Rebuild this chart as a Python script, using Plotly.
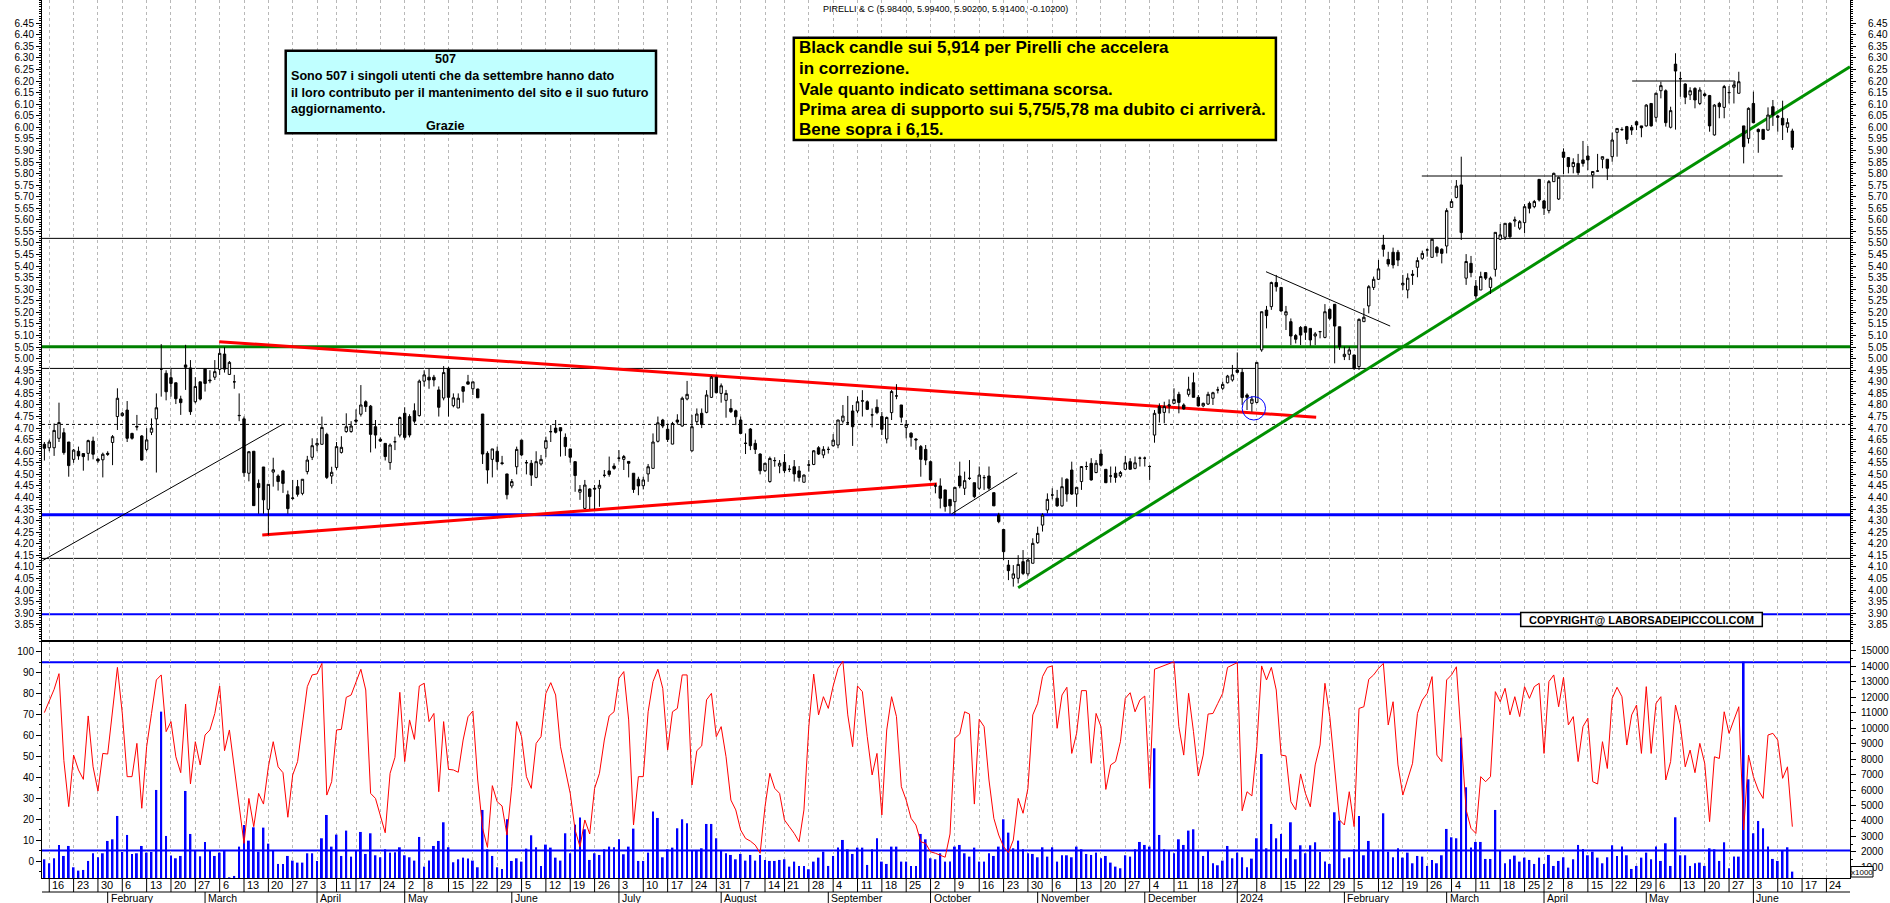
import plotly.graph_objects as go
import pandas as pd

# ---------------- calendar ----------------
HOLIDAYS = ["2023-04-07", "2023-04-10", "2023-05-01", "2023-08-15", "2023-12-25",
            "2023-12-26", "2024-01-01", "2024-03-29", "2024-04-01", "2024-05-01"]
FIRST_DAY = "2023-01-13"
AXIS_LAST_DAY = "2024-06-28"
MONTHS = ["", "January", "February", "March", "April", "May", "June", "July",
          "August", "September", "October", "November", "December"]

# ---------------- OHLC (daily) ----------------
open_ = [
    4.63, 4.615, 4.615, 4.656, 4.68, 4.64, 4.565, 4.60, 4.59, 4.591,
    4.644, 4.566, 4.563, 4.591, 4.638, 4.75, 4.754, 4.778, 4.677, 4.707,
    4.666, 4.608, 4.682, 4.74, 4.955, 4.937, 4.918, 4.896, 4.826, 4.973,
    4.96, 4.814, 4.90, 4.955, 4.908, 4.92, 4.954, 5.02, 4.932, 4.90,
    4.755, 4.74, 4.505, 4.60, 4.461, 4.532, 4.349, 4.51, 4.493, 4.515,
    4.412, 4.396, 4.447, 4.418, 4.512, 4.574, 4.627, 4.63, 4.673, 4.493,
    4.53, 4.595, 4.685, 4.685, 4.735, 4.76, 4.814, 4.795, 4.706, 4.652,
    4.634, 4.551, 4.641, 4.67, 4.764, 4.75, 4.775, 4.754, 4.903, 4.92,
    4.92, 4.865, 4.83, 4.958, 4.797, 4.787, 4.879, 4.90, 4.87, 4.869,
    4.761, 4.591, 4.565, 4.60, 4.55, 4.502, 4.45, 4.533, 4.648, 4.551,
    4.548, 4.487, 4.545, 4.613, 4.684, 4.70, 4.702, 4.66, 4.61, 4.555,
    4.423, 4.353, 4.437, 4.44, 4.44, 4.496, 4.515, 4.536, 4.57, 4.565,
    4.556, 4.505, 4.479, 4.451, 4.502, 4.526, 4.643, 4.735, 4.695, 4.631,
    4.735, 4.709, 4.826, 4.602, 4.728, 4.764, 4.768, 4.833, 4.92, 4.85,
    4.82, 4.785, 4.775, 4.735, 4.635, 4.696, 4.634, 4.588, 4.516, 4.469,
    4.559, 4.536, 4.552, 4.522, 4.533, 4.515, 4.466, 4.54, 4.543, 4.615,
    4.584, 4.608, 4.624, 4.627, 4.73, 4.723, 4.774, 4.774, 4.818, 4.814,
    4.757, 4.79, 4.75, 4.653, 4.767, 4.839, 4.80, 4.703, 4.678, 4.653,
    4.62, 4.608, 4.555, 4.45, 4.45, 4.433, 4.392, 4.382, 4.493, 4.44,
    4.483, 4.464, 4.44, 4.486, 4.493, 4.421, 4.324, 4.262, 4.108, 4.051,
    4.051, 4.123, 4.07, 4.116, 4.205, 4.281, 4.346, 4.411, 4.397, 4.364,
    4.479, 4.519, 4.415, 4.469, 4.534, 4.548, 4.508, 4.588, 4.522, 4.493,
    4.505, 4.493, 4.522, 4.555, 4.526, 4.57, 4.57, 4.534, 4.670, 4.793,
    4.768, 4.796, 4.807, 4.846, 4.80, 4.846, 4.896, 4.833, 4.796, 4.804,
    4.829, 4.865, 4.872, 4.896, 4.908, 4.951, 4.941, 4.843, 4.807, 4.811,
    5.038, 5.210, 5.225, 5.329, 5.308, 5.189, 5.160, 5.10, 5.135, 5.138,
    5.131, 5.098, 5.117, 5.092, 5.213, 5.235, 5.138, 5.009, 5.019, 5.016,
    4.966, 5.16, 5.228, 5.308, 5.343, 5.491, 5.429, 5.46, 5.46, 5.319,
    5.297, 5.365, 5.395, 5.434, 5.47, 5.438, 5.481, 5.473, 5.487, 5.654,
    5.697, 5.751, 5.348, 5.412, 5.314, 5.297, 5.372, 5.308, 5.386, 5.516,
    5.525, 5.585, 5.595, 5.564, 5.588, 5.671, 5.657, 5.775, 5.682, 5.64,
    5.765, 5.69, 5.893, 5.869, 5.83, 5.844, 5.859, 5.876, 5.794, 5.811,
    5.862, 5.862, 5.873, 5.978, 5.99, 6.003, 6.0, 6.024, 6.006, 6.006,
    6.103, 6.043, 6.158, 6.158, 6.0, 6.273, 6.21, 6.187, 6.14, 6.168,
    6.103, 6.144, 6.137, 5.967, 6.103, 6.086, 6.15, 6.173, 6.147, 6.006,
    5.952, 6.103, 5.991, 5.991, 5.988, 6.089, 6.049, 6.039, 6.0, 5.984,
]
high = [
    4.64, 4.65, 4.72, 4.81, 4.70, 4.64, 4.61, 4.62, 4.59, 4.65,
    4.663, 4.57, 4.594, 4.60, 4.67, 4.872, 4.77, 4.817, 4.68, 4.757,
    4.67, 4.70, 4.742, 4.85, 5.063, 4.95, 4.96, 4.896, 4.84, 5.06,
    4.994, 4.92, 4.90, 4.958, 4.95, 4.994, 5.045, 5.05, 4.99, 4.93,
    4.85, 4.75, 4.60, 4.60, 4.478, 4.532, 4.457, 4.572, 4.50, 4.52,
    4.43, 4.476, 4.476, 4.48, 4.58, 4.656, 4.656, 4.75, 4.68, 4.533,
    4.64, 4.665, 4.764, 4.73, 4.781, 4.886, 4.82, 4.80, 4.735, 4.66,
    4.634, 4.634, 4.663, 4.75, 4.79, 4.76, 4.807, 4.91, 4.95, 4.958,
    4.93, 4.88, 4.968, 4.965, 4.85, 4.85, 4.88, 4.93, 4.90, 4.87,
    4.761, 4.60, 4.61, 4.62, 4.58, 4.502, 4.48, 4.62, 4.65, 4.562,
    4.562, 4.60, 4.584, 4.663, 4.713, 4.735, 4.702, 4.677, 4.61, 4.555,
    4.454, 4.476, 4.44, 4.454, 4.476, 4.519, 4.577, 4.548, 4.605, 4.584,
    4.556, 4.505, 4.49, 4.49, 4.545, 4.677, 4.75, 4.74, 4.72, 4.727,
    4.76, 4.836, 4.904, 4.757, 4.785, 4.785, 4.864, 4.925, 4.92, 4.893,
    4.865, 4.826, 4.78, 4.75, 4.677, 4.70, 4.65, 4.591, 4.55, 4.577,
    4.574, 4.562, 4.588, 4.54, 4.562, 4.536, 4.50, 4.562, 4.605, 4.622,
    4.622, 4.62, 4.674, 4.735, 4.80, 4.839, 4.80, 4.836, 4.864, 4.82,
    4.785, 4.824, 4.77, 4.75, 4.865, 4.89, 4.80, 4.735, 4.682, 4.656,
    4.627, 4.627, 4.56, 4.462, 4.483, 4.433, 4.392, 4.444, 4.555, 4.512,
    4.562, 4.464, 4.534, 4.497, 4.534, 4.421, 4.334, 4.262, 4.13, 4.108,
    4.151, 4.173, 4.14, 4.224, 4.274, 4.332, 4.418, 4.44, 4.433, 4.487,
    4.483, 4.555, 4.444, 4.534, 4.555, 4.57, 4.562, 4.608, 4.522, 4.534,
    4.534, 4.515, 4.58, 4.57, 4.577, 4.577, 4.577, 4.54, 4.778, 4.807,
    4.814, 4.824, 4.872, 4.857, 4.807, 4.922, 4.94, 4.843, 4.81, 4.857,
    4.857, 4.879, 4.901, 4.93, 4.973, 5.027, 4.958, 4.85, 4.839, 4.984,
    5.203, 5.228, 5.333, 5.362, 5.308, 5.228, 5.174, 5.107, 5.141, 5.141,
    5.131, 5.115, 5.12, 5.236, 5.218, 5.235, 5.138, 5.052, 5.052, 5.016,
    5.174, 5.218, 5.318, 5.355, 5.427, 5.535, 5.462, 5.48, 5.47, 5.362,
    5.369, 5.383, 5.438, 5.467, 5.477, 5.52, 5.487, 5.477, 5.65, 5.689,
    5.772, 5.873, 5.452, 5.444, 5.34, 5.376, 5.372, 5.355, 5.546, 5.582,
    5.585, 5.59, 5.614, 5.599, 5.668, 5.679, 5.686, 5.775, 5.686, 5.772,
    5.804, 5.787, 5.909, 5.87, 5.866, 5.885, 5.941, 5.919, 5.809, 5.885,
    5.873, 5.862, 5.977, 5.995, 6.0, 6.006, 6.01, 6.028, 6.006, 6.10,
    6.103, 6.15, 6.197, 6.164, 6.089, 6.32, 6.24, 6.19, 6.173, 6.173,
    6.173, 6.15, 6.14, 6.10, 6.11, 6.183, 6.178, 6.197, 6.24, 6.006,
    6.086, 6.154, 5.995, 5.991, 6.086, 6.118, 6.053, 6.115, 6.039, 5.994,
]
low = [
    4.56, 4.60, 4.58, 4.64, 4.585, 4.49, 4.55, 4.563, 4.516, 4.56,
    4.565, 4.55, 4.487, 4.58, 4.54, 4.692, 4.75, 4.64, 4.65, 4.69,
    4.56, 4.60, 4.67, 4.508, 4.836, 4.82, 4.836, 4.804, 4.757, 4.865,
    4.757, 4.807, 4.82, 4.858, 4.894, 4.908, 4.93, 4.94, 4.93, 4.87,
    4.73, 4.49, 4.47, 4.365, 4.33, 4.33, 4.238, 4.447, 4.43, 4.42,
    4.33, 4.39, 4.404, 4.41, 4.50, 4.562, 4.60, 4.63, 4.48, 4.459,
    4.52, 4.59, 4.68, 4.68, 4.72, 4.75, 4.77, 4.595, 4.612, 4.64,
    4.56, 4.52, 4.605, 4.66, 4.65, 4.66, 4.72, 4.75, 4.88, 4.87,
    4.88, 4.75, 4.82, 4.75, 4.79, 4.787, 4.81, 4.89, 4.843, 4.83,
    4.545, 4.46, 4.487, 4.52, 4.54, 4.392, 4.44, 4.50, 4.58, 4.50,
    4.45, 4.483, 4.538, 4.574, 4.64, 4.677, 4.577, 4.58, 4.551, 4.425,
    4.39, 4.35, 4.35, 4.35, 4.36, 4.487, 4.49, 4.52, 4.555, 4.519,
    4.487, 4.42, 4.41, 4.435, 4.468, 4.526, 4.638, 4.70, 4.64, 4.63,
    4.715, 4.706, 4.82, 4.598, 4.718, 4.70, 4.764, 4.83, 4.85, 4.81,
    4.745, 4.765, 4.713, 4.675, 4.588, 4.605, 4.588, 4.50, 4.51, 4.464,
    4.533, 4.505, 4.505, 4.51, 4.469, 4.469, 4.466, 4.512, 4.54, 4.584,
    4.57, 4.59, 4.62, 4.613, 4.72, 4.713, 4.623, 4.764, 4.75, 4.778,
    4.703, 4.76, 4.67, 4.634, 4.735, 4.825, 4.724, 4.656, 4.62, 4.606,
    4.49, 4.54, 4.47, 4.418, 4.353, 4.339, 4.33, 4.325, 4.44, 4.411,
    4.476, 4.397, 4.433, 4.433, 4.433, 4.364, 4.289, 4.13, 4.043, 4.015,
    4.029, 4.065, 4.06, 4.116, 4.20, 4.253, 4.332, 4.392, 4.36, 4.36,
    4.382, 4.411, 4.36, 4.433, 4.519, 4.473, 4.505, 4.534, 4.464, 4.464,
    4.464, 4.486, 4.519, 4.522, 4.522, 4.534, 4.534, 4.476, 4.637, 4.724,
    4.721, 4.764, 4.807, 4.764, 4.78, 4.836, 4.833, 4.793, 4.79, 4.80,
    4.80, 4.85, 4.865, 4.893, 4.901, 4.937, 4.80, 4.778, 4.771, 4.807,
    5.030, 5.131, 5.211, 5.29, 5.203, 5.124, 5.059, 5.066, 5.059, 5.081,
    5.056, 5.059, 5.088, 5.088, 5.167, 4.98, 5.038, 4.994, 4.994, 4.951,
    4.951, 5.16, 5.196, 5.297, 5.34, 5.441, 5.398, 5.39, 5.40, 5.297,
    5.261, 5.319, 5.352, 5.427, 5.441, 5.438, 5.441, 5.412, 5.455, 5.654,
    5.693, 5.513, 5.319, 5.352, 5.257, 5.297, 5.34, 5.28, 5.355, 5.513,
    5.513, 5.52, 5.57, 5.556, 5.542, 5.628, 5.65, 5.679, 5.621, 5.628,
    5.765, 5.686, 5.798, 5.801, 5.801, 5.794, 5.83, 5.815, 5.736, 5.808,
    5.823, 5.772, 5.851, 5.873, 5.985, 5.928, 5.967, 5.988, 5.957, 6.003,
    6.003, 6.024, 6.125, 6.003, 5.995, 5.99, 6.132, 6.10, 6.118, 6.082,
    6.096, 6.132, 5.981, 5.964, 6.039, 6.039, 6.103, 6.103, 6.147, 5.844,
    5.93, 6.017, 5.89, 5.945, 5.985, 6.006, 5.981, 5.945, 5.977, 5.902,
]
close = [
    4.613, 4.64, 4.69, 4.724, 4.594, 4.538, 4.605, 4.58, 4.577, 4.646,
    4.587, 4.558, 4.587, 4.587, 4.663, 4.829, 4.764, 4.656, 4.656, 4.705,
    4.562, 4.649, 4.70, 4.788, 4.955, 4.857, 4.893, 4.827, 4.81, 4.963,
    4.771, 4.88, 4.826, 4.893, 4.905, 4.944, 5.023, 4.955, 4.984, 4.90,
    4.754, 4.507, 4.598, 4.365, 4.443, 4.39, 4.457, 4.52, 4.469, 4.461,
    4.352, 4.398, 4.414, 4.479, 4.562, 4.624, 4.634, 4.703, 4.487, 4.509,
    4.62, 4.617, 4.706, 4.709, 4.73, 4.80, 4.793, 4.673, 4.67, 4.644,
    4.577, 4.627, 4.641, 4.746, 4.66, 4.67, 4.73, 4.903, 4.93, 4.908,
    4.908, 4.79, 4.94, 4.833, 4.831, 4.829, 4.859, 4.89, 4.90, 4.831,
    4.588, 4.519, 4.61, 4.555, 4.547, 4.412, 4.469, 4.608, 4.584, 4.55,
    4.497, 4.555, 4.565, 4.646, 4.685, 4.682, 4.688, 4.62, 4.574, 4.495,
    4.435, 4.454, 4.404, 4.437, 4.453, 4.496, 4.50, 4.526, 4.57, 4.577,
    4.548, 4.435, 4.45, 4.476, 4.533, 4.64, 4.723, 4.709, 4.651, 4.72,
    4.726, 4.829, 4.846, 4.706, 4.761, 4.716, 4.843, 4.92, 4.853, 4.883,
    4.85, 4.771, 4.749, 4.677, 4.634, 4.624, 4.608, 4.516, 4.548, 4.569,
    4.56, 4.548, 4.516, 4.522, 4.502, 4.487, 4.497, 4.541, 4.602, 4.588,
    4.608, 4.608, 4.648, 4.735, 4.752, 4.723, 4.706, 4.814, 4.817, 4.781,
    4.757, 4.767, 4.695, 4.746, 4.858, 4.839, 4.747, 4.716, 4.66, 4.649,
    4.565, 4.562, 4.476, 4.45, 4.397, 4.361, 4.364, 4.444, 4.45, 4.473,
    4.483, 4.404, 4.497, 4.486, 4.44, 4.364, 4.296, 4.166, 4.084, 4.07,
    4.111, 4.072, 4.13, 4.202, 4.245, 4.324, 4.392, 4.411, 4.364, 4.447,
    4.415, 4.415, 4.444, 4.534, 4.534, 4.476, 4.548, 4.54, 4.464, 4.493,
    4.487, 4.508, 4.55, 4.522, 4.55, 4.57, 4.57, 4.534, 4.764, 4.764,
    4.793, 4.80, 4.824, 4.811, 4.783, 4.868, 4.833, 4.796, 4.807, 4.846,
    4.853, 4.865, 4.889, 4.925, 4.93, 4.941, 4.832, 4.833, 4.825, 4.984,
    5.203, 5.186, 5.329, 5.311, 5.206, 5.203, 5.098, 5.084, 5.102, 5.114,
    5.081, 5.107, 5.117, 5.203, 5.174, 5.141, 5.052, 5.019, 5.038, 4.958,
    5.170, 5.179, 5.311, 5.343, 5.388, 5.473, 5.409, 5.405, 5.426, 5.326,
    5.348, 5.361, 5.424, 5.455, 5.47, 5.516, 5.458, 5.455, 5.640, 5.679,
    5.746, 5.545, 5.42, 5.372, 5.271, 5.355, 5.348, 5.348, 5.546, 5.535,
    5.585, 5.527, 5.60, 5.592, 5.657, 5.65, 5.679, 5.686, 5.65, 5.765,
    5.801, 5.784, 5.87, 5.83, 5.848, 5.804, 5.844, 5.859, 5.809, 5.811,
    5.873, 5.823, 5.945, 5.995, 5.99, 5.948, 5.988, 6.01, 5.998, 6.096,
    6.006, 6.147, 6.18, 6.02, 6.072, 6.243, 6.21, 6.13, 6.158, 6.118,
    6.161, 6.137, 6.006, 6.096, 6.089, 6.176, 6.15, 6.183, 6.197, 5.916,
    6.082, 6.02, 5.981, 5.948, 6.053, 6.053, 6.043, 6.01, 6.02, 5.914,
]
# volume (axis units, x1000)
volume = [
    1518, 1260, 1583, 2446, 1734, 2381, 1001, 785, 828, 1411,
    1907, 1648, 1907, 2705, 2812, 4322, 1993, 3093, 1864, 1907,
    2381, 1950, 1993, 6005, 11074, 3028, 1756, 1583, 1734, 5941,
    3158, 2079, 1713, 2640, 2079, 1734, 1950, 2079, 353, 440,
    2338, 3740, 2726, 3589, 2015, 3568, 2532, 2079, 1217, 1217,
    1734, 1432, 1303, 1303, 1907, 1907, 1411, 2877, 4387, 2338,
    3115, 1734, 3374, 1691, 2079, 3287, 1864, 3201, 1777, 1648,
    2165, 1950, 1971, 2295, 1777, 1648, 1432, 2963, 1044, 1432,
    2381, 2705, 3913, 2295, 1325, 1518, 1626, 1561, 1432, 1001,
    4711, 2165, 1734, 1001, 893, 4107, 1411, 1583, 1368, 2209,
    3072, 2295, 1087, 2468, 2273, 1626, 1432, 3201, 1907, 3762,
    4215, 3460, 1475, 1907, 1799, 2165, 2338, 2295, 2812, 1842,
    2338, 3503, 1411, 1411, 1950, 4603, 4193, 1648, 2165, 2273,
    3525, 4107, 3848, 2122, 2122, 2230, 3805, 3805, 2877, 2122,
    1907, 1799, 1518, 1864, 1432, 1799, 1432, 1799, 1475, 1411,
    1411, 1475, 1518, 1044, 1368, 1087, 1087, 871, 1368, 1626,
    2015, 1087, 1734, 2273, 2769, 2165, 1864, 2273, 2273, 1152,
    2165, 2877, 1368, 1217, 2338, 2338, 1368, 1368, 1087, 1087,
    3158, 2812, 1583, 1518, 1907, 1368, 1368, 2338, 2446, 1907,
    1691, 2273, 1368, 1368, 1907, 1734, 2338, 4107, 3244, 2230,
    2726, 2165, 1907, 1864, 1648, 2295, 1691, 2295, 1368, 1777,
    1777, 1648, 2338, 2165, 1864, 1799, 1950, 1583, 1734, 1303,
    1044, 936, 1777, 1691, 2165, 2640, 2446, 2338, 8701, 3093,
    2165, 2079, 1907, 2812, 2446, 3374, 3460, 2079, 1734, 2079,
    1260, 1130, 1432, 2381, 1583, 1950, 1648, 1001, 1561, 2877,
    8334, 2230, 3805, 2877, 3158, 1583, 3913, 1518, 2425, 1907,
    2425, 2618, 1993, 1368, 1217, 4560, 4020, 1583, 1648, 2165,
    4322, 1777, 2705, 2122, 2122, 4495, 2015, 1648, 2230, 1626,
    1950, 1260, 1734, 1691, 1087, 1475, 1260, 1777, 3482, 2942,
    2877, 9391, 6178, 2273, 2640, 2640, 1540, 1540, 4711, 2058,
    1260, 1518, 1756, 1368, 1626, 1475, 1217, 1626, 1217, 1799,
    1087, 1411, 1648, 979, 1518, 2446, 2187, 1777, 2015, 1626,
    1260, 1648, 2425, 1734, 2338, 1777, 893, 1087, 1626, 1950,
    1518, 2338, 1411, 2554, 1087, 4236, 1777, 1777, 1087, 1260,
    1303, 1087, 2230, 2165, 1411, 2618, 936, 1691, 1691, 14310,
    6695, 3201, 3999, 3525, 2338, 1540, 1411, 2079, 2295, 720,
]
# oscillator (0-100)
oscillator = [
    70.9, 76.1, 82, 89.5, 48, 26, 50.6, 43.5, 39, 69.3,
    45, 33.4, 51.4, 51.1, 70.5, 92.5, 70.5, 40.3, 40.3, 56.2,
    25.2, 54.6, 70.5, 86.5, 88.9, 61.8, 66.6, 49.8, 42.2, 75,
    36.8, 57, 45.9, 60.2, 62.6, 70.5, 83.6, 52.7, 62.6, 45,
    25.9, 8.4, 29.9, 16.4, 32.3, 27.2, 45, 57, 45, 42.2,
    20.9, 41.1, 47.5, 65.8, 83.3, 88.9, 89.4, 94.4, 31.5, 37.9,
    62.6, 62.9, 78.2, 79.3, 85.7, 91.6, 81.7, 32.3, 29.9, 22,
    13.5, 41.9, 49.5, 80.6, 47.5, 67.4, 58.1, 83.6, 84.9, 66.6,
    70.5, 33.1, 66.6, 43.8, 43.5, 42.4, 57.8, 68.9, 71.7, 38.7,
    15.6, 6.5, 36, 28.3, 26.3, 12.4, 35.5, 66.6, 59.4, 40.3,
    34.7, 56.2, 59.4, 80.1, 85.2, 79.3, 54.6, 43.5, 32.3, 14.8,
    6.8, 19.6, 12.9, 34.7, 41.9, 57.8, 69.3, 71.3, 87.3, 90.5,
    67.4, 17.2, 40.3, 40.3, 71.3, 85.7, 91.6, 82.5, 53, 71.3,
    72.9, 88.9, 88.9, 36.3, 52.7, 55, 77, 80.1, 59.4, 64.2,
    49.8, 29.1, 24.4, 14.8, 10.8, 9.5, 7.6, 3.7, 25.9, 41.9,
    34.7, 32.3, 19.6, 16.4, 13.2, 9.2, 24.4, 64.2, 89.3, 69.8,
    78.5, 72.9, 83.6, 92, 95.5, 69.8, 54.6, 83.6, 80.9, 59.4,
    41.1, 51.4, 22, 62.6, 78.5, 69, 35.5, 29.1, 20.4, 17.2,
    9.2, 8.4, 4.4, 3.7, 2.9, 1.8, 12.9, 58.6, 60.7, 71.3,
    70.2, 27.2, 67.7, 64.2, 38.7, 20.4, 12.4, 6.8, 4, 10,
    29.9, 22.8, 34.7, 69.8, 75.3, 88.1, 92.5, 93.2, 63.4, 79.3,
    83, 51.4, 61, 81.4, 81.4, 46.7, 70.5, 64.2, 34.2, 45.9,
    47.5, 57, 77.7, 80.4, 71.3, 76.9, 78.8, 34.7, 91.6, 92.5,
    93.2, 94.1, 95.2, 64.2, 50.6, 80.1, 61.8, 40.6, 50.6, 70.2,
    70.5, 75.3, 80.1, 92.5, 93.6, 94.8, 24, 33.1, 31.1, 54.6,
    93.2, 86.5, 92.5, 81.7, 50.6, 50.2, 28.3, 24.4, 41.6, 32.3,
    25.9, 45.9, 55.4, 84.9, 69, 45, 19.6, 17.2, 33.1, 16.4,
    72.9, 73.7, 86.8, 88.9, 92, 94.4, 65, 76.1, 45.9, 31.5,
    38.7, 46.7, 70.5, 76.9, 80.1, 88.1, 50.6, 47.5, 86.5, 88.9,
    92.8, 59.4, 24.4, 15.6, 13.2, 40.3, 37.9, 40.3, 80.9, 76.1,
    82.5, 69.8, 78.5, 69, 83.3, 77.7, 83.3, 84.9, 51.4, 85.7,
    88.9, 73.7, 87.7, 65, 69, 47.5, 64.2, 68.2, 37.9, 36.8,
    57, 44.2, 77.7, 83, 78.5, 55.4, 69.8, 74.5, 51.4, 83.3,
    51.4, 75.3, 78.5, 38.7, 47.5, 74.5, 65, 45, 53, 42.2,
    56.2, 46.7, 18.8, 49.8, 49, 71.3, 61, 67.4, 73.7, 14.8,
    50.6, 40.3, 33.9, 29.9, 60.2, 61, 57.8, 39.5, 45, 16.4,
]

# horizontal levels drawn on the price panel
level_values = [5.52, 5.052, 4.958, 4.716, 4.326, 4.137, 3.8955]
# trend lines: start (bar index, price) -> end (bar index, price)
trend_x0 = [35.9, 44.75, -0.4, 186.3, 200.0, 250.9, 282.9, 326.1]
trend_y0 = [5.0735, 4.238, 4.127, 4.329, 4.010, 5.376, 5.7895, 6.200]
trend_x1 = [261.2, 183.3, 49.1, 199.8, 370.84, 276.4, 357.0, 347.2]
trend_y1 = [4.747, 4.4585, 4.718, 4.507, 6.262, 5.141, 5.7895, 6.200]
circle_box = [246.0, 4.735, 250.8, 4.836]
osc_levels = [95, 5]

price_ticks = [round(3.85 + 0.05 * k, 2) for k in range(53)]
osc_ticks = list(range(0, 101, 10))
vol_ticks = list(range(1000, 15001, 1000))

title_text = "PIRELLI & C (5.98400, 5.99400, 5.90200, 5.91400, -0.10200)"
box1_lines = ["507",
              "Sono 507 i singoli utenti che da settembre hanno dato",
              "il loro contributo per il mantenimento del sito e il suo futuro",
              "aggiornamento.",
              "Grazie"]
box2_lines = ["Black candle sui 5,914 per Pirelli che accelera",
              "in correzione.",
              "Vale quanto indicato settimana scorsa.",
              "Prima area di supporto sui 5,75/5,78 ma dubito ci arriverà.",
              "Bene sopra i 6,15."]
copyright_text = "COPYRIGHT@ LABORSADEIPICCOLI.COM"

n = len(close)
assert len(open_) == n and len(high) == n and len(low) == n and len(volume) == n and len(oscillator) == n

bdays = pd.bdate_range(FIRST_DAY, AXIS_LAST_DAY)
dates = [d for d in bdays if d.strftime("%Y-%m-%d") not in HOLIDAYS]
xs = list(range(n))

week_starts = [i for i in range(1, len(dates))
               if dates[i].isocalendar()[1] != dates[i - 1].isocalendar()[1]]
month_starts = [i for i in range(1, len(dates)) if dates[i].month != dates[i - 1].month]

# ---------------- geometry helpers ----------------
W, H = 1890, 903
ML, MR, MT, MB = 42, 40, 0, 25
PW, PH = W - ML - MR, H - MT - MB


def px(x):
    return (x - ML) / PW


def py(y):
    return (H - MB - y) / PH


SPLIT = py(641)
FONT = "Liberation Sans, Arial, sans-serif"

fig = go.Figure()
fig.add_trace(go.Candlestick(
    x=xs, open=open_, high=high, low=low, close=close,
    increasing=dict(line=dict(color="black", width=1), fillcolor="white"),
    decreasing=dict(line=dict(color="black", width=1), fillcolor="black"),
    whiskerwidth=0, xaxis="x", yaxis="y", hoverinfo="skip", showlegend=False))
fig.add_trace(go.Scatter(x=[xs[-1]], y=[close[-1]], mode="markers",
                         marker=dict(opacity=0), xaxis="x", yaxis="y4",
                         hoverinfo="skip", showlegend=False))
fig.add_trace(go.Bar(x=xs, y=volume, width=0.38, marker=dict(color="#0000FF", line=dict(width=0)),
                     xaxis="x", yaxis="y2", hoverinfo="skip", showlegend=False))
fig.add_trace(go.Scatter(x=xs, y=oscillator, mode="lines", line=dict(color="#FF0000", width=1),
                         xaxis="x", yaxis="y3", hoverinfo="skip", showlegend=False))

tickfont = dict(family=FONT, size=10, color="black")
common_y = dict(ticks="outside", ticklen=5, tickcolor="black", showgrid=False, zeroline=False,
                showline=True, linecolor="black", linewidth=1, tickfont=tickfont, fixedrange=True)

fig.update_layout(
    width=W, height=H, margin=dict(l=ML, r=MR, t=MT, b=MB),
    paper_bgcolor="white", plot_bgcolor="white", showlegend=False,
    font=dict(family=FONT, color="black", size=10),
    xaxis=dict(domain=[0, 1], anchor="y2", range=[-0.49, 370.84], tickmode="array",
               tickvals=week_starts, showticklabels=False, ticks="", showgrid=True,
               gridcolor="#B8B8B8", griddash="3px,3px", gridwidth=1, showline=True,
               linecolor="black", linewidth=1, zeroline=False,
               rangeslider=dict(visible=False), fixedrange=True),
    yaxis=dict(domain=[SPLIT, 1], anchor="x", range=[3.78, 6.5501], side="left",
               tickmode="array", tickvals=price_ticks, ticktext=[f"{v:.2f}" for v in price_ticks],
               minor=dict(ticks="outside", ticklen=2, tickcolor="black", dtick=0.01, tick0=0,
                          showgrid=False), **common_y),
    yaxis4=dict(overlaying="y", anchor="x", side="right", range=[3.78, 6.5501],
                tickmode="array", tickvals=price_ticks, ticktext=[f"{v:.2f}" for v in price_ticks],
                minor=dict(ticks="outside", ticklen=2, tickcolor="black", dtick=0.01, tick0=0,
                           showgrid=False), ticklabelstandoff=10, **common_y),
    yaxis2=dict(domain=[0, SPLIT], anchor="x", side="right", range=[307, 15646],
                tickmode="array", tickvals=vol_ticks, ticktext=[str(v) for v in vol_ticks],
                minor=dict(ticks="outside", ticklen=2, tickcolor="black", dtick=500, tick0=0,
                           showgrid=False), ticklabelstandoff=3, **common_y),
    yaxis3=dict(overlaying="y2", anchor="x", side="left", range=[-8.12, 105.11],
                tickmode="array", tickvals=osc_ticks, ticktext=[str(v) for v in osc_ticks],
                minor=dict(ticks="outside", ticklen=2, tickcolor="black", dtick=5, tick0=0,
                           showgrid=False), **common_y),
)

shapes = []
level_styles = [("black", 1, "solid"), ("#008000", 3, "solid"), ("black", 1, "solid"),
                ("black", 1, "3px,3px"), ("#0000FF", 3, "solid"), ("black", 1, "solid"),
                ("#0000FF", 2, "solid")]
for v, (c, w, d) in zip(level_values, level_styles):
    shapes.append(dict(type="line", xref="paper", yref="y", x0=0, x1=1, y0=v, y1=v,
                       line=dict(color=c, width=w, dash=d), layer="between"))
trend_styles = [("#FF0000", 3), ("#FF0000", 3), ("black", 1), ("black", 1),
                ("#009000", 3), ("black", 1), ("black", 1), ("black", 1)]
for x0, y0, x1, y1, (c, w) in zip(trend_x0, trend_y0, trend_x1, trend_y1, trend_styles):
    shapes.append(dict(type="line", xref="x", yref="y", x0=x0, y0=y0, x1=x1, y1=y1,
                       line=dict(color=c, width=w), layer="between"))
shapes.append(dict(type="line", xref="x", yref="y", x0=trend_x1[7], x1=trend_x1[7],
                   y0=trend_y1[7], y1=trend_y1[7] - 0.022, line=dict(color="black", width=1)))
shapes.append(dict(type="circle", xref="x", yref="y", x0=circle_box[0], y0=circle_box[1],
                   x1=circle_box[2], y1=circle_box[3], line=dict(color="#0000FF", width=1)))
for v in osc_levels:
    shapes.append(dict(type="line", xref="paper", yref="y3", x0=0, x1=1, y0=v, y1=v,
                       line=dict(color="#0000FF", width=2), layer="between"))
shapes.append(dict(type="line", xref="paper", yref="paper", x0=0, x1=1, y0=SPLIT, y1=SPLIT,
                   line=dict(color="black", width=2)))
ROW = py(892)
BOT = py(903)
shapes.append(dict(type="line", xref="paper", yref="paper", x0=0, x1=1, y0=ROW, y1=ROW,
                   line=dict(color="black", width=1)))
for w in week_starts:
    shapes.append(dict(type="line", xref="x", yref="paper", x0=w, x1=w, y0=0, y1=ROW,
                       line=dict(color="black", width=1)))
for m in month_starts:
    shapes.append(dict(type="line", xref="x", yref="paper", x0=m, x1=m, y0=ROW, y1=BOT,
                       line=dict(color="black", width=1)))
shapes.append(dict(type="rect", xref="paper", yref="paper", x0=px(285.7), x1=px(656),
                   y0=py(133.3), y1=py(50.7), fillcolor="#C0FFFF",
                   line=dict(color="black", width=2.5)))
shapes.append(dict(type="rect", xref="paper", yref="paper", x0=px(793.8), x1=px(1275.9),
                   y0=py(140), y1=py(37.7), fillcolor="#FFFF00",
                   line=dict(color="black", width=2.5)))
shapes.append(dict(type="rect", xref="paper", yref="paper", x0=px(1520.7), x1=px(1762.3),
                   y0=py(626.5), y1=py(612.5), fillcolor="white",
                   line=dict(color="black", width=1.5)))
shapes.append(dict(type="rect", xref="paper", yref="paper", x0=px(1851), x1=px(1873),
                   y0=py(877), y1=py(866.5), fillcolor="white",
                   line=dict(color="black", width=1)))

ann = []
ann.append(dict(text=title_text, xref="paper", yref="paper", x=px(945.5), y=py(9),
                xanchor="center", yanchor="middle", showarrow=False,
                font=dict(family=FONT, size=9, color="black")))
b1y = [59.3, 76.0, 92.7, 108.7, 125.7]
for i, (t, yy) in enumerate(zip(box1_lines, b1y)):
    centered = i in (0, 4)
    ann.append(dict(text=t, xref="paper", yref="paper", x=px(445 if centered else 289),
                    y=py(yy), xanchor="center" if centered else "left", yanchor="middle",
                    showarrow=False, font=dict(family=FONT, size=12.6, color="black", weight="bold")))
b2y = [47.7, 68.3, 89.3, 110.0, 130.0]
for t, yy in zip(box2_lines, b2y):
    ann.append(dict(text=t, xref="paper", yref="paper", x=px(797), y=py(yy), xanchor="left",
                    yanchor="middle", showarrow=False,
                    font=dict(family=FONT, size=17, color="black", weight="bold")))
ann.append(dict(text=copyright_text, xref="paper", yref="paper", x=px(1641.5), y=py(619.5),
                xanchor="center", yanchor="middle", showarrow=False,
                font=dict(family=FONT, size=11, color="black", weight="bold")))
ann.append(dict(text="x1000", xref="paper", yref="paper", x=px(1862), y=py(872),
                xanchor="center", yanchor="middle", showarrow=False,
                font=dict(family=FONT, size=8, color="black")))
for w in week_starts:
    if w in month_starts and dates[w].month == 1:
        continue  # first week of the year carries no day label
    ann.append(dict(text=str(dates[w].day), xref="x", yref="paper", x=w, y=0, xshift=1,
                    yshift=-7, xanchor="left", yanchor="middle", showarrow=False,
                    font=dict(family=FONT, size=11, color="black")))
for m in month_starts:
    label = str(dates[m].year) if dates[m].month == 1 else MONTHS[dates[m].month]
    ann.append(dict(text=label, xref="x", yref="paper", x=m, y=0, xshift=1, yshift=-19.5,
                    xanchor="left", yanchor="middle", showarrow=False,
                    font=dict(family=FONT, size=10.5, color="black")))

fig.update_layout(shapes=shapes, annotations=ann)
fig.write_html("out.html", config={"displayModeBar": False},
               post_script="document.body.style.margin='0';document.body.style.overflow='hidden';")
